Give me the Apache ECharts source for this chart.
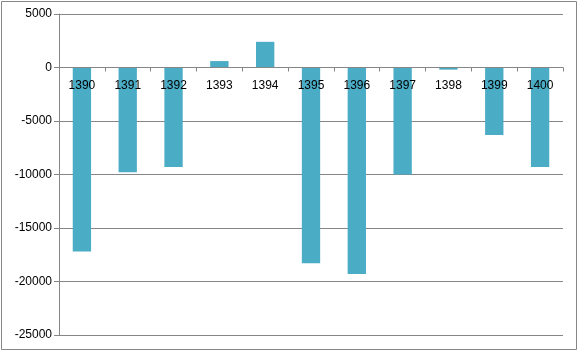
<!DOCTYPE html>
<html>
<head>
<meta charset="utf-8">
<script src="https://cdn.jsdelivr.net/npm/echarts@6/dist/echarts.min.js"></script>
<style>
  html, body { margin: 0; padding: 0; background: #fff; }
  #chart { width: 579px; height: 352px; }
</style>
</head>
<body>
<div id="chart"></div>
<script>
// years on the x axis
var years = ['1390', '1391', '1392', '1393', '1394', '1395', '1396', '1397', '1398', '1399', '1400'];
// bar values
var values = [-17200, -9800, -9300, 600, 2400, -18300, -19300, -10000, -200, -6300, -9300];
// y axis range
var yMin = -25000;
var yMax = 5000;
var yStep = 5000;

var gridTop = 14;
var gridBottom = 17;
var chartHeight = 352;

var chart = echarts.init(document.getElementById('chart'));

// category axis sits on the zero line: place it at the top and push it down
var plotHeight = chartHeight - gridTop - gridBottom;
var zeroOffset = plotHeight * (yMax - 0) / (yMax - yMin);

var option = {
  animation: false,
  backgroundColor: '#fff',
  // outer frame like the spreadsheet chart
  graphic: [{
    type: 'rect',
    shape: { x: 1.5, y: 1.5, width: 575, height: 348 },
    style: { fill: 'none', stroke: '#868686', lineWidth: 1 },
    silent: true
  }],
  grid: { left: 59, right: 16, top: gridTop, bottom: gridBottom, containLabel: false, outerBoundsMode: 'none' },
  xAxis: {
    type: 'category',
    data: years,
    position: 'top',
    offset: -zeroOffset,
    z: 10,
    axisLine: { onZero: false, lineStyle: { color: '#868686' } },
    axisTick: { show: true, inside: true, length: 4, lineStyle: { color: '#868686' } },
    axisLabel: { inside: true, color: '#000', fontSize: 12, fontFamily: 'Liberation Sans', margin: 12 },
    splitLine: { show: false }
  },
  yAxis: {
    type: 'value',
    min: yMin,
    max: yMax,
    interval: yStep,
    axisLine: { show: true, lineStyle: { color: '#868686' } },
    axisTick: { show: true, length: 5, lineStyle: { color: '#868686' } },
    axisLabel: {
      color: '#000', fontSize: 12, fontFamily: 'Liberation Sans', margin: 7,
      formatter: function (v) { return String(v); }
    },
    splitLine: { show: true, lineStyle: { color: '#868686' } }
  },
  series: [{
    type: 'bar',
    data: values,
    barWidth: '40%',
    itemStyle: { color: '#4BACC6' }
  }]
};

chart.setOption(option);
</script>
</body>
</html>
